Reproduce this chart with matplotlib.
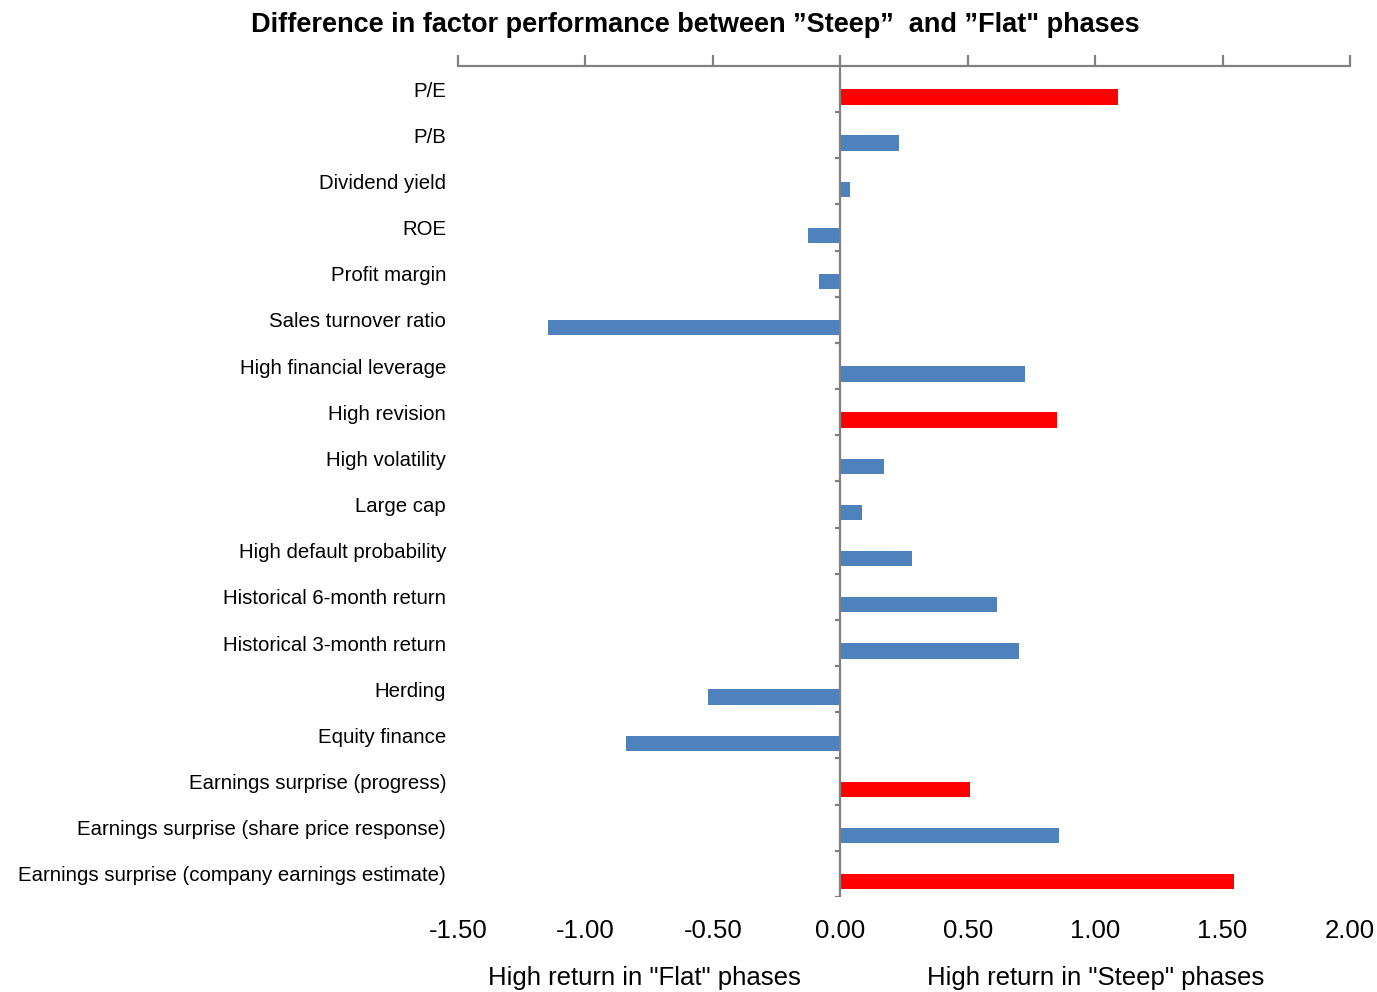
import numpy as np
import matplotlib.pyplot as plt

plt.rcParams["font.family"] = ["Liberation Sans", "DejaVu Sans"]

factors = [
    "P/E", "P/B", "Dividend yield", "ROE", "Profit margin",
    "Sales turnover ratio", "High financial leverage", "High revision",
    "High volatility", "Large cap", "High default probability",
    "Historical 6-month return", "Historical 3-month return", "Herding",
    "Equity finance", "Earnings surprise (progress)",
    "Earnings surprise (share price response)",
    "Earnings surprise (company earnings estimate)",
]
diff = [1.09, 0.23, 0.04, -0.125, -0.085, -1.145, 0.726, 0.85, 0.17, 0.086,
        0.28, 0.616, 0.70, -0.52, -0.84, 0.51, 0.86, 1.545]
highlight = [True, False, False, False, False, False, False, True, False,
             False, False, False, False, False, False, True, False, True]

xticks = [-1.5, -1.0, -0.5, 0.0, 0.5, 1.0, 1.5, 2.0]

red = "#FF0000"
blue = "#4F81BD"
grey = "#808080"

fig = plt.figure(figsize=(13.77, 9.92), dpi=100)
ax = fig.add_axes([0.3326, 0.0958, 0.6478, 0.8377])

n = len(factors)
pos = np.arange(n)
colors = [red if h else blue for h in highlight]
# bars sit slightly below the middle of each category band
ax.barh(pos + 0.17, diff, height=0.33, color=colors, zorder=2)

ax.set_ylim(n - 0.5, -0.5)
ax.set_xlim(xticks[0], xticks[-1])

# zero line with short ticks at category boundaries
ax.axvline(0, color=grey, lw=1.6, zorder=3)
bounds = np.arange(n) + 0.5
ax.hlines(bounds, -0.022, 0, color=grey, lw=1.6, zorder=3)

for s in ["left", "right", "bottom"]:
    ax.spines[s].set_visible(False)
ax.spines["top"].set_color(grey)
ax.spines["top"].set_linewidth(1.6)

ax.set_xticks(xticks)
ax.set_xticklabels([f"{v:.2f}" for v in xticks], fontsize=18.5)
ax.tick_params(axis="x", top=True, bottom=False, labeltop=False,
               labelbottom=True, direction="out", length=8, width=1.6,
               color=grey, pad=8)

ax.set_yticks(pos)
ax.set_yticklabels(factors, fontsize=14.7)
ax.tick_params(axis="y", left=False, pad=5)

fig.text(0.4677, 0.014, 'High return in "Flat" phases', fontsize=18.5,
         ha="center", va="center")
fig.text(0.7959, 0.014, 'High return in "Steep" phases', fontsize=18.5,
         ha="center", va="center")

fig.suptitle("Difference in factor performance between \u201dSteep\u201d  and \u201dFlat\" phases",
             x=0.505, y=0.975, fontsize=19.5, fontweight="bold", va="center")

fig.savefig("out.png", dpi=100, facecolor="white")
